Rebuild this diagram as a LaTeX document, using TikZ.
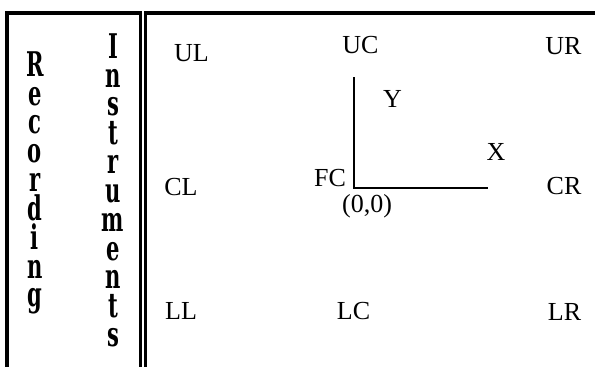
\documentclass[tikz,border=0pt]{standalone}
\usepackage{fontspec}
\setmainfont{Liberation Serif}
\newfontfamily\vfont{DejaVu Serif}
\newcommand\vl[1]{\scalebox{0.62}[1]{#1}}
\begin{document}
\begin{tikzpicture}[x=1pt,y=-1pt,
  lab/.style={anchor=base,inner sep=0pt,font=\fontsize{26}{26}\selectfont},
  vword/.style={anchor=north,inner sep=0pt,align=center,
    font=\vfont\bfseries\fontsize{34}{28.85}\selectfont},
  frame/.style={line width=3.5pt,line join=miter},
  axis/.style={line width=1.7pt}]
\useasboundingbox (0,0) rectangle (595,367);
\clip (0,0) rectangle (595,367);
\fill[white] (0,0) rectangle (595,367);
% frames
\draw[frame] (7,400) -- (7,13) -- (140.3,13) -- (140.3,400);
\draw[frame] (145.7,400) -- (145.7,13) -- (620,13);
% vertical titles
\node[vword] (rec) at (35,51.2)
  {\vl{R}\\ \vl{e}\\ \vl{c}\\ \vl{o}\\ \vl{r}\\ \vl{d}\\ \vl{i}\\ \vl{n}\\ \vl{g}};
\node[vword] (ins) at (113,33.2)
  {\vl{I}\\ \vl{n}\\ \vl{s}\\ \vl{t}\\ \vl{r}\\ \vl{u}\\ \vl{m}\\ \vl{e}\\ \vl{n}\\ \vl{t}\\ \vl{s}};
% labels
\node[lab] (UL) at (191.5,61) {UL};
\node[lab] (UC) at (360.5,53) {UC};
\node[lab] (UR) at (563.5,54) {UR};
\node[lab] (CL) at (181,195) {CL};
\node[lab] (FC) at (330,186) {FC};
\node[lab] (CR) at (564,194) {CR};
\node[lab] (LL) at (181,319) {LL};
\node[lab] (LC) at (353.5,319) {LC};
\node[lab] (LR) at (564.5,320) {LR};
\node[lab] (X) at (496,160) {X};
\node[lab] (Y) at (392.5,107) {Y};
\node[lab] (O) at (367,212) {(0,0)};
% axes
\coordinate (o) at (354,188);
\coordinate (ytop) at (354,77);
\coordinate (xend) at (487.5,188);
\draw[axis] (ytop) -- (o) -- (xend);
\end{tikzpicture}
\end{document}
